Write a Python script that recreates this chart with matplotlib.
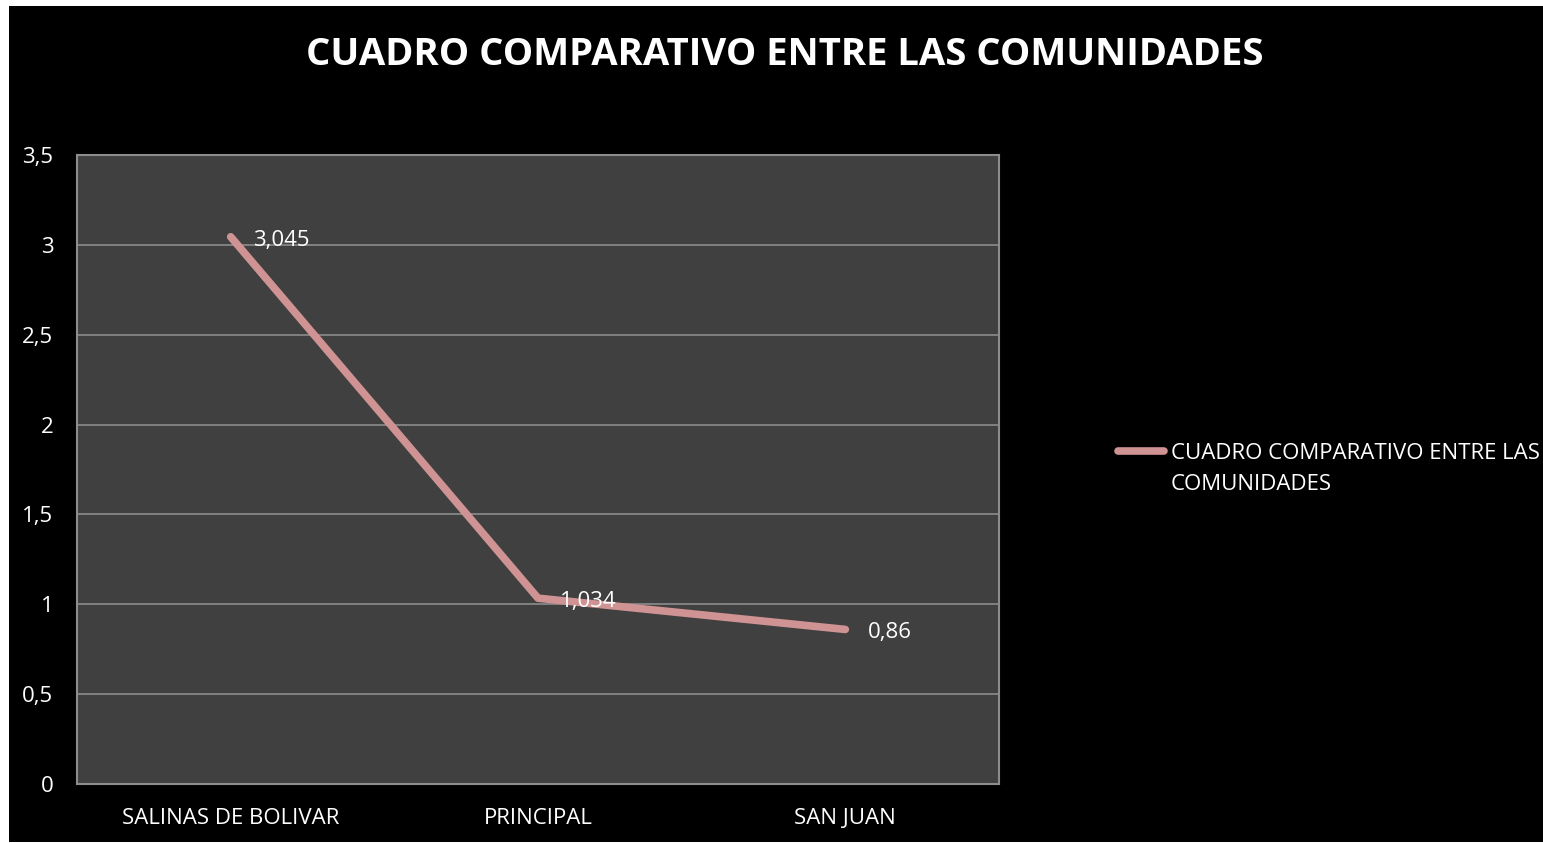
import matplotlib
matplotlib.use('Agg')
import matplotlib.pyplot as plt
from matplotlib.patches import Rectangle
from matplotlib.lines import Line2D
from matplotlib.ticker import FuncFormatter

# datos
comunidades = ['SALINAS DE BOLIVAR', 'PRINCIPAL', 'SAN JUAN']
valores = [3.045, 1.034, 0.86]
etiquetas = ['3,045', '1,034', '0,86']
serie = 'CUADRO COMPARATIVO ENTRE LAS\nCOMUNIDADES'
titulo = 'CUADRO COMPARATIVO ENTRE LAS COMUNIDADES'

plt.rcParams['font.family'] = ['Open Sans', 'DejaVu Sans']

fig = plt.figure(figsize=(15.43, 8.43), dpi=100, facecolor='white')
W, H = 1543, 843
# fondo negro del gráfico
fig.patches.append(Rectangle((9 / W, 1 / H), 1 - 9 / W, (H - 7) / H,
                             transform=fig.transFigure, facecolor='black',
                             edgecolor='none', zorder=-1))

ax = fig.add_axes([77 / W, 1 - 784 / H, (999 - 77) / W, (784 - 155) / H])
ax.set_facecolor('#404040')
for s in ax.spines.values():
    s.set_color('#8c8c8c')
    s.set_linewidth(1.5)

color_linea = '#d09393'
x = [0.5, 1.5, 2.5]
ax.plot(x, valores, color=color_linea, lw=5.5, solid_capstyle='round',
        solid_joinstyle='round', zorder=3)
for xi, v, t in zip(x, valores, etiquetas):
    ax.annotate(t, (xi, v), xytext=(16, -2.5), textcoords='offset points',
                color='white', fontsize=16, va='center', ha='left', zorder=4)

ax.set_xlim(0, 3)
ax.set_ylim(0, 3.5)
ax.set_yticks([0, 0.5, 1, 1.5, 2, 2.5, 3, 3.5])
ax.yaxis.set_major_formatter(FuncFormatter(lambda v, p: ('%g' % v).replace('.', ',')))
ax.set_xticks(x)
ax.set_xticklabels(comunidades)
ax.grid(axis='y', color='#8c8c8c', lw=1.2)
ax.set_axisbelow(True)
ax.tick_params(colors='white', labelsize=16, length=0)
ax.tick_params(axis='y', pad=17)
ax.tick_params(axis='x', pad=17)

fig.text(785 / W, 1 - 55 / H, titulo, color='white', fontsize=27.5,
         fontweight='bold', ha='center', va='center')

# leyenda (la muestra de línea alineada con la primera línea del texto)
fig.lines.append(Line2D([1118 / W, 1164 / W], [1 - 451 / H, 1 - 451 / H],
                        transform=fig.transFigure, color=color_linea, lw=5.5,
                        solid_capstyle='round'))
fig.text(1171 / W, 1 - 443 / H, serie, color='white', fontsize=16,
         ha='left', va='top', linespacing=1.6)

fig.savefig('out.png', dpi=100, facecolor=fig.get_facecolor())
